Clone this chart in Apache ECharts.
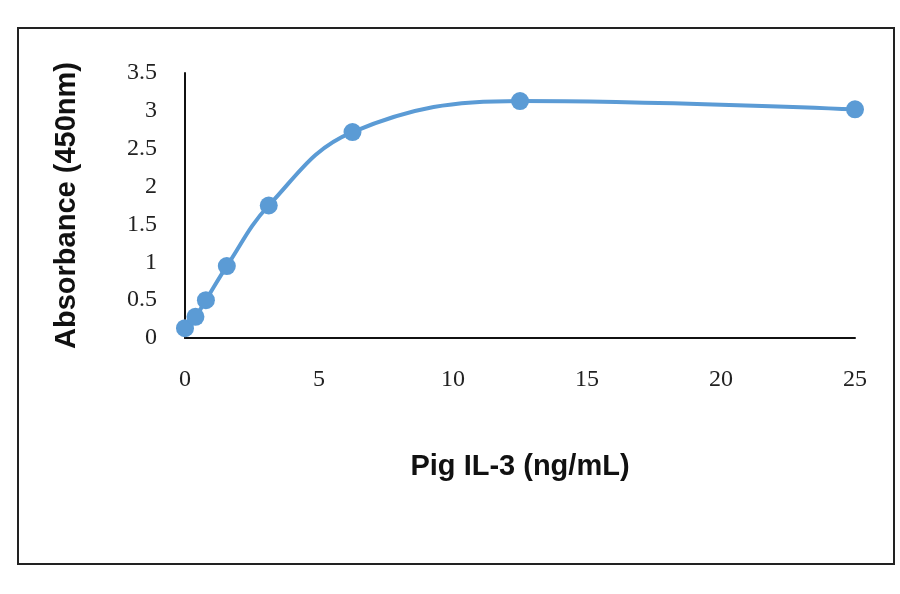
<!DOCTYPE html>
<html lang="en">
<head>
    <meta charset="UTF-8">
    <title>Pig IL-3</title>
    <script src="https://cdn.jsdelivr.net/npm/echarts@6/dist/echarts.min.js"></script>
    <style>
        body { margin: 0; background: #fff; }
        #frame { position: absolute; left: 17px; top: 27px; width: 874px; height: 534px; border: 2px solid #222; }
    </style>
</head>
<body>
    <div id="frame"></div>
    <div id="main" style="position:absolute;left:0;top:0;width: 900px;height:594px;"></div>

    <script type="text/javascript">
        var concentrations = [0, 0.39, 0.78, 1.56, 3.125, 6.25, 12.5, 25];
        var absorbance = [0.13, 0.28, 0.5, 0.95, 1.75, 2.72, 3.13, 3.02];

        var points = concentrations.map(function (c, i) { return [c, absorbance[i]]; });

        var myChart = echarts.init(document.getElementById('main'));
        var option = {
            animation: false,
            grid: { left: 185, right: 45, top: 73, bottom: 256 },
            xAxis: {
                type: 'value', min: 0, max: 25, interval: 5,
                name: 'Pig IL-3 (ng/mL)', nameLocation: 'middle', nameGap: 114,
                nameTextStyle: { fontFamily: 'Liberation Sans', fontWeight: 'bold', fontSize: 29, color: '#111' },
                axisLine: { lineStyle: { color: '#111', width: 2 } },
                axisTick: { show: false },
                splitLine: { show: false },
                axisLabel: { fontFamily: 'Liberation Serif', fontSize: 24, color: '#222', margin: 30 }
            },
            yAxis: {
                type: 'value', min: 0, max: 3.5, interval: 0.5,
                name: 'Absorbance (450nm)', nameLocation: 'middle', nameGap: 104,
                nameTextStyle: { fontFamily: 'Liberation Sans', fontWeight: 'bold', fontSize: 29, color: '#111' },
                axisLine: { show: true, lineStyle: { color: '#111', width: 2 } },
                axisTick: { show: false },
                splitLine: { show: false },
                axisLabel: { fontFamily: 'Liberation Serif', fontSize: 24, color: '#222', margin: 28 }
            },
            series: [{
                type: 'line',
                data: points,
                smooth: 0.4,
                symbol: 'circle',
                symbolSize: 18,
                lineStyle: { color: '#5b9bd5', width: 4 },
                itemStyle: { color: '#5b9bd5' }
            }]
        };
        myChart.setOption(option);
    </script>
</body>
</html>
